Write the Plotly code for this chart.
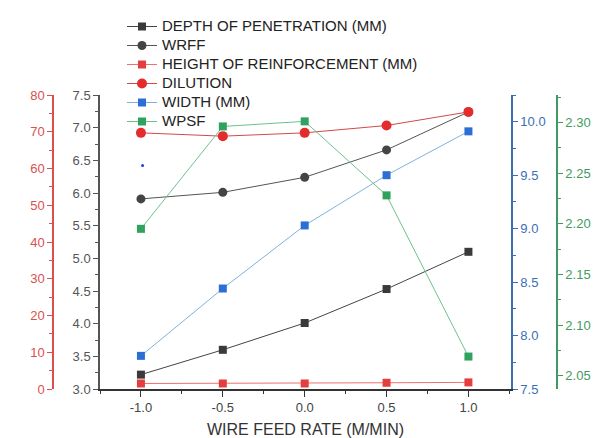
import plotly.graph_objects as go

# ---- data ----
wire_feed = [-1.0, -0.5, 0.0, 0.5, 1.0]
depth = [3.22, 3.60, 4.01, 4.53, 5.10]
wrff = [5.91, 6.01, 6.24, 6.66, 7.24]
height_reinf = [1.5, 1.5, 1.5, 1.7, 1.8]
dilution = [69.7, 68.8, 69.7, 71.7, 75.4]
width_mm = [7.81, 8.44, 9.03, 9.50, 9.91]
wpsf = [2.195, 2.296, 2.301, 2.228, 2.069]
stray_x = [-0.99]
stray_y = [9.59]
series_names = ["DEPTH OF PENETRATION (MM)", "WRFF", "HEIGHT OF REINFORCEMENT (MM)",
                "DILUTION", "WIDTH (MM)", "WPSF"]

W, H = 593, 438
ML, MR, MT, MB = 20, 20, 95, 49
PW = W - ML - MR
PH = H - MT - MB

def px(xpix):
    return (xpix - ML) / PW

def lg(name):
    return '<span style="font-size:15px">' + name + '</span>'

BLACK = "#333333"
RED = "#d9504f"
BLUE = "#3b6fb3"
GREEN = "#3f9b62"

fig = go.Figure()

fig.add_trace(go.Scatter(x=wire_feed, y=depth, name=lg(series_names[0]), yaxis="y",
                         mode="lines+markers", line=dict(color="#444444", width=1),
                         marker=dict(symbol="square", size=8, color="#3a3a3a")))
fig.add_trace(go.Scatter(x=wire_feed, y=wrff, name=lg(series_names[1]), yaxis="y",
                         mode="lines+markers", line=dict(color="#555555", width=1),
                         marker=dict(symbol="circle", size=9, color="#444444")))
fig.add_trace(go.Scatter(x=wire_feed, y=height_reinf, name=lg(series_names[2]), yaxis="y2",
                         mode="lines+markers", line=dict(color="#ec7070", width=1),
                         marker=dict(symbol="square", size=8, color="#e53e3e")))
fig.add_trace(go.Scatter(x=wire_feed, y=dilution, name=lg(series_names[3]), yaxis="y2",
                         mode="lines+markers", line=dict(color="#d04a4a", width=1),
                         marker=dict(symbol="circle", size=10, color="#e32c2c")))
fig.add_trace(go.Scatter(x=wire_feed, y=width_mm, name=lg(series_names[4]), yaxis="y3",
                         mode="lines+markers", line=dict(color="#7fb3dc", width=1),
                         marker=dict(symbol="square", size=8, color="#2b6fd6")))
fig.add_trace(go.Scatter(x=wire_feed, y=wpsf, name=lg(series_names[5]), yaxis="y4",
                         mode="lines+markers", line=dict(color="#6cc28c", width=1),
                         marker=dict(symbol="square", size=8, color="#2fa25e")))
fig.add_trace(go.Scatter(x=stray_x, y=stray_y, yaxis="y3", mode="markers", showlegend=False,
                         marker=dict(symbol="circle", size=3, color="#1f3fe0"), hoverinfo="skip"))

fig.update_layout(
    width=W, height=H,
    margin=dict(l=ML, r=MR, t=MT, b=MB, pad=0, autoexpand=False),
    paper_bgcolor="white", plot_bgcolor="white",
    font=dict(family="Liberation Sans, Arial, sans-serif", color=BLACK),
    xaxis=dict(domain=[px(100), px(511)], range=[-1.25, 1.26], automargin=False,
               tickvals=wire_feed, ticktext=["-1.0", "-0.5", "0.0", "0.5", "1.0"],
               ticks="outside", ticklen=6, tickcolor=BLACK, tickwidth=1,
               minor=dict(ticks="outside", ticklen=3, dtick=0.25, tick0=0, tickcolor=BLACK),
               showline=True, linecolor=BLACK, linewidth=1.5, showgrid=False, zeroline=False,
               tickfont=dict(size=13, color="#444444"),
               title=dict(text="WIRE FEED RATE (M/MIN)", font=dict(size=16, color=BLACK), standoff=14)),
    yaxis=dict(range=[3.0, 7.5], dtick=0.5, tickformat=".1f", automargin=False,
               ticks="outside", ticklen=5, tickcolor="#555555",
               minor=dict(ticks="outside", ticklen=3, dtick=0.25, tickcolor="#555555"),
               showline=True, linecolor="#555555", linewidth=1.5, showgrid=False, zeroline=False,
               tickfont=dict(size=13, color="#555555")),
    yaxis2=dict(range=[0, 80], dtick=10, overlaying="y", side="left", anchor="free", position=px(53),
                automargin=False,
                ticks="outside", ticklen=5, tickcolor=RED,
                minor=dict(ticks="outside", ticklen=3, dtick=5, tickcolor=RED),
                showline=True, linecolor=RED, linewidth=1.5, showgrid=False, zeroline=False,
                tickfont=dict(size=13, color=RED)),
    yaxis3=dict(range=[7.5, 10.25], tickvals=[7.5, 8.0, 8.5, 9.0, 9.5, 10.0], tickformat=".1f",
                overlaying="y", side="right", anchor="x", automargin=False,
                ticks="outside", ticklen=5, tickcolor=BLUE,
                minor=dict(ticks="outside", ticklen=3, dtick=0.25, tick0=7.5, tickcolor=BLUE),
                showline=True, linecolor=BLUE, linewidth=1.5, showgrid=False, zeroline=False,
                tickfont=dict(size=13, color=BLUE)),
    yaxis4=dict(range=[2.037, 2.327], tickvals=[2.05, 2.10, 2.15, 2.20, 2.25, 2.30], tickformat=".2f",
                overlaying="y", side="right", anchor="free", position=px(557), automargin=False,
                ticks="outside", ticklen=5, tickcolor=GREEN,
                minor=dict(ticks="outside", ticklen=3, dtick=0.025, tick0=2.05, tickcolor=GREEN),
                showline=True, linecolor=GREEN, linewidth=1.5, showgrid=False, zeroline=False,
                tickfont=dict(size=13, color=GREEN)),
    legend=dict(x=px(122), y=1 + (MT - 12) / PH, xanchor="left", yanchor="top",
                bgcolor="rgba(0,0,0,0)",
                font=dict(family="Liberation Sans, Arial, sans-serif", size=12, color="#222222"),
                tracegroupgap=0, itemwidth=30),
    showlegend=True,
)

fig.write_html("out.html")
